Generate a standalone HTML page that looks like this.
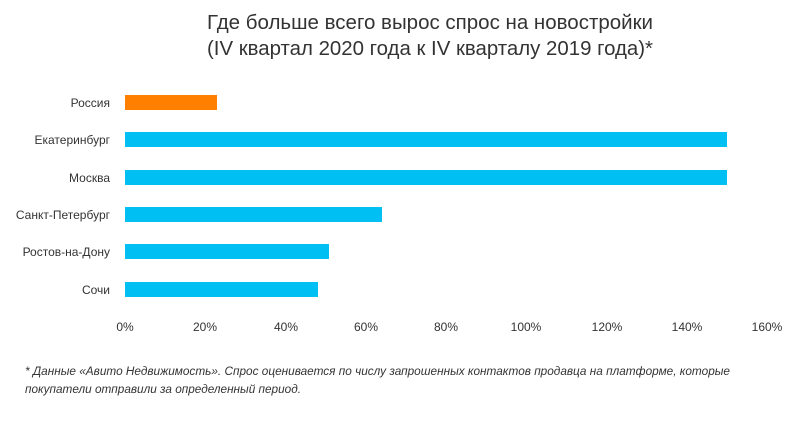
<!DOCTYPE html>
<html><head><meta charset="utf-8"><style>
body{margin:0;width:800px;height:423px;background:#fff;overflow:hidden;font-family:"Liberation Sans","DejaVu Sans",sans-serif;}
</style></head><body>
<svg width="800" height="423" xmlns="http://www.w3.org/2000/svg" font-family="Liberation Sans, DejaVu Sans, sans-serif">
<text x="207" y="29" font-size="20" fill="#333" textLength="446" lengthAdjust="spacingAndGlyphs">Где больше всего вырос спрос на новостройки</text>
<text x="207" y="55" font-size="20" fill="#333" textLength="446" lengthAdjust="spacingAndGlyphs">(IV квартал 2020 года к IV кварталу 2019 года)*</text>
<g font-size="12" fill="#333" text-anchor="end">
<text x="110" y="107">Россия</text>
<text x="110" y="144">Екатеринбург</text>
<text x="110" y="182">Москва</text>
<text x="110" y="219">Санкт-Петербург</text>
<text x="110" y="256">Ростов-на-Дону</text>
<text x="110" y="294">Сочи</text>
</g>
<rect x="125" y="95" width="92" height="15" fill="#FF8000"/>
<rect x="125" y="132" width="602" height="15" fill="#00BFF3"/>
<rect x="125" y="170" width="602" height="15" fill="#00BFF3"/>
<rect x="125" y="207" width="257" height="15" fill="#00BFF3"/>
<rect x="125" y="244" width="204" height="15" fill="#00BFF3"/>
<rect x="125" y="282" width="193" height="15" fill="#00BFF3"/>
<g font-size="12" fill="#333" text-anchor="middle">
<text x="125" y="331">0%</text>
<text x="205" y="331">20%</text>
<text x="286" y="331">40%</text>
<text x="366" y="331">60%</text>
<text x="446" y="331">80%</text>
<text x="526" y="331">100%</text>
<text x="607" y="331">120%</text>
<text x="687" y="331">140%</text>
<text x="767" y="331">160%</text>
</g>
<g font-size="11.5" fill="#333" font-style="italic">
<text x="25" y="375" textLength="705" lengthAdjust="spacingAndGlyphs">* Данные «Авито Недвижимость». Спрос оценивается по числу запрошенных контактов продавца на платформе, которые</text>
<text x="25" y="393" textLength="276" lengthAdjust="spacingAndGlyphs">покупатели отправили за определенный период.</text>
</g>
</svg>
</body></html>
